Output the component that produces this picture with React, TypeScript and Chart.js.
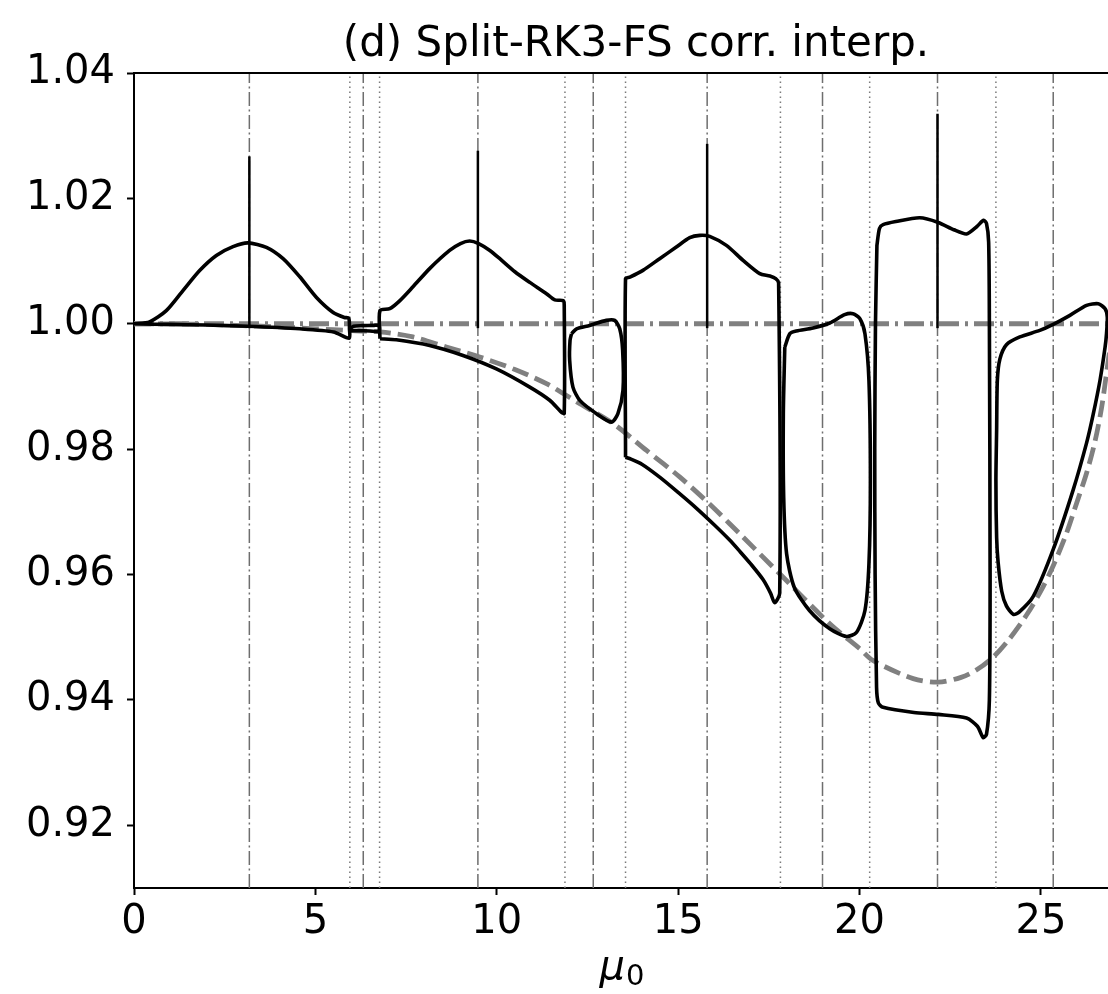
import React, { useEffect, useRef } from "react";
import { Chart, registerables } from "chart.js";

Chart.register(...registerables);

// ---------------- data ----------------
const X_MAX = 26.85;
const Y_MIN = 0.91;
const Y_MAX = 1.04;

const xTicks = [0, 5, 10, 15, 20, 25];
const yTicks = [0.92, 0.94, 0.96, 0.98, 1.0, 1.02, 1.04];

const dashDotX = [3.18, 6.32, 9.48, 12.66, 15.8, 18.98, 22.15, 25.34];
const dottedX = [5.95, 6.77, 11.88, 13.55, 17.82, 20.28, 23.76];

const spikeX = [3.18, 9.48, 15.8, 22.15];
const spikeTop = [1.0267, 1.0276, 1.0287, 1.0335];
const spikeBase = 0.9993;

// loop 0 - 5.95
const loop1X = [0, 0.43, 0.89, 1.35, 1.81, 2.27, 2.73, 3.14, 3.65, 4.11, 4.57, 5.03, 5.49, 5.8, 5.92, 5.94, 5.93, 5.5, 4.57, 3.14, 2.0, 1.0, 0];
const loop1Y = [1.0, 1.0003, 1.0021, 1.0053, 1.0085, 1.0109, 1.0123, 1.0129, 1.0122, 1.0104, 1.0075, 1.0042, 1.0018, 1.001, 1.0009, 0.9992, 0.9977, 0.9987, 0.9992, 0.9996, 0.9998, 0.9999, 1.0];

// tiny loop 5.95 - 6.78
const loop2X = [5.96, 6.05, 6.3, 6.6, 6.74, 6.77, 6.74, 6.5, 6.2, 6.0, 5.96];
const loop2Y = [0.9992, 0.99962, 0.9997, 0.99975, 0.9998, 0.9993, 0.9988, 0.99885, 0.9989, 0.9989, 0.9992];

// loop 6.78 - 11.86
const loop3X = [6.78, 6.78, 7.05, 7.33, 7.69, 8.15, 8.7, 9.0, 9.25, 9.5, 9.81, 10.1, 10.5, 10.91, 11.37, 11.6, 11.83, 11.86, 11.86, 11.78, 11.46, 10.91, 9.99, 9.07, 8.15, 7.23, 6.78];
const loop3Y = [0.99762, 1.0021, 1.0024, 1.0037, 1.0059, 1.0088, 1.0117, 1.0128, 1.0132, 1.0128, 1.0117, 1.0103, 1.0083, 1.0066, 1.0048, 1.0038, 1.0037, 1.003, 0.9857, 0.9859, 0.9878, 0.9899, 0.9928, 0.99495, 0.99655, 0.99745, 0.99762];

// loop 11.9 - 13.5
const loop4X = [12.06, 12.2, 12.56, 13.02, 13.25, 13.39, 13.47, 13.48, 13.34, 13.16, 12.75, 12.29, 12.1, 12.01, 12.02, 12.06];
const loop4Y = [0.9984, 0.9992, 0.99974, 1.00054, 1.00054, 0.9992, 0.9958, 0.9894, 0.98565, 0.98431, 0.98565, 0.98778, 0.9899, 0.99416, 0.99735, 0.9984];

// loop 13.5 - 17.8
const loop5X = [13.55, 13.55, 13.67, 14.03, 14.49, 14.95, 15.32, 15.6, 15.87, 16.33, 16.79, 17.25, 17.53, 17.69, 17.77, 17.8, 17.66, 17.55, 17.34, 17.0, 16.7, 16.42, 16.0, 15.5, 15.0, 14.5, 14.0, 13.7, 13.55];
const loop5Y = [0.9787, 1.0072, 1.00745, 1.00852, 1.01038, 1.01223, 1.01373, 1.0141, 1.01394, 1.0125, 1.01011, 1.00799, 1.00761, 1.00719, 1.0065, 0.957, 0.9555, 0.957, 0.9592, 0.9617, 0.9637, 0.9655, 0.9679, 0.9706, 0.9731, 0.9755, 0.9776, 0.9784, 0.9787];

// loop 17.8 - 20.3
const loop6X = [17.94, 18.08, 18.26, 18.72, 19.18, 19.59, 19.82, 20.01, 20.15, 20.26, 20.3, 20.26, 20.15, 19.92, 19.64, 19.18, 18.62, 18.2, 17.99, 17.91, 17.9, 17.94];
const loop6Y = [0.99628, 0.99842, 0.99884, 0.99932, 1.00012, 1.00145, 1.00161, 1.00081, 0.99842, 0.99097, 0.97501, 0.96172, 0.95427, 0.9508, 0.95012, 0.95135, 0.95427, 0.95798, 0.96331, 0.97234, 0.98565, 0.99628];

// box 20.4 - 23.6
const loop7X = [20.48, 20.55, 20.65, 21.0, 21.66, 22.17, 22.6, 22.95, 23.23, 23.42, 23.5, 23.56, 23.58, 23.6, 23.58, 23.5, 23.41, 23.25, 22.95, 22.17, 21.5, 20.65, 20.52, 20.47, 20.43, 20.42, 20.44, 20.48];
const loop7Y = [1.0125, 1.0152, 1.0158, 1.0163, 1.0169, 1.01616, 1.015, 1.01433, 1.01548, 1.0165, 1.016, 1.013, 1.0, 0.96, 0.94, 0.9345, 0.934, 0.9358, 0.93711, 0.93769, 0.938, 0.93882, 0.9395, 0.942, 0.96, 0.98, 1.0, 1.0125];

// loop 23.7 - 26.85
const loop8X = [23.78, 23.8, 23.87, 24.05, 24.42, 24.97, 25.34, 25.8, 26.26, 26.58, 26.77, 26.83, 26.81, 26.77, 26.63, 26.44, 26.26, 25.89, 25.34, 24.79, 24.4, 24.24, 24.05, 23.92, 23.82, 23.78, 23.76, 23.78];
const loop8Y = [0.983, 0.991, 0.99438, 0.99666, 0.9979, 0.99894, 0.9999, 1.00134, 1.00293, 1.0032, 1.0024, 1.00107, 0.9985, 0.99628, 0.991, 0.9855, 0.981, 0.9735, 0.964, 0.9565, 0.954, 0.95364, 0.955, 0.95734, 0.962, 0.96592, 0.975, 0.983];

// gray dashed reference curve
const refX = [0, 1, 2, 3, 4, 5, 6, 6.78, 7.69, 8.61, 9.53, 10.5, 11.37, 12.29, 13.21, 14.13, 15.05, 15.96, 16.42, 16.7, 17.8, 19.18, 20.0, 20.37, 21.48, 22.17, 22.8, 23.23, 23.68, 24.1, 24.6, 25.0, 25.34, 25.7, 25.98, 26.26, 26.49, 26.67, 26.83, 26.9];
const refY = [1.0, 0.99998, 0.9999, 0.9997, 0.9995, 0.9992, 0.9989, 0.9987, 0.9979, 0.9963, 0.9947, 0.9927, 0.99044, 0.98725, 0.98406, 0.97979, 0.97553, 0.97075, 0.9681, 0.9665, 0.96012, 0.95214, 0.9482, 0.9463, 0.9434, 0.94283, 0.9436, 0.9448, 0.9468, 0.9495, 0.9535, 0.9574, 0.9614, 0.9665, 0.9713, 0.9762, 0.9812, 0.9865, 0.993, 0.996];

const unityY = 1.0;

const TITLE = "(d) Split-RK3-FS corr. interp.";
const FONT = "'DejaVu Sans', 'Liberation Sans', sans-serif";

const blackLoops: Array<[number[], number[]]> = [
  [loop1X, loop1Y],
  [loop2X, loop2Y],
  [loop3X, loop3Y],
  [loop4X, loop4Y],
  [loop5X, loop5Y],
  [loop6X, loop6Y],
  [loop7X, loop7Y],
  [loop8X, loop8Y],
];

function zip(xs: number[], ys: number[]) {
  return xs.map((x, i) => ({ x, y: ys[i] }));
}

const decorPlugin = {
  id: "decor",
  afterDraw(chart: any) {
    const { ctx, chartArea } = chart;
    ctx.save();
    ctx.strokeStyle = "#000";
    ctx.lineWidth = 2;
    ctx.beginPath();
    ctx.moveTo(chartArea.left - 1, chartArea.top);
    ctx.lineTo(chartArea.right, chartArea.top);
    ctx.stroke();

    ctx.fillStyle = "#000";
    ctx.font = `42px ${FONT}`;
    ctx.textAlign = "center";
    ctx.textBaseline = "alphabetic";
    ctx.fillText(TITLE, 636, 56);

    // x-axis label: italic mu with subscript 0
    ctx.textAlign = "left";
    ctx.font = `italic 40px ${FONT}`;
    const wMu = ctx.measureText("μ").width;
    ctx.font = `29px ${FONT}`;
    const w0 = ctx.measureText("0").width;
    const start = 622 - (wMu + w0 + 1) / 2;
    ctx.font = `italic 40px ${FONT}`;
    ctx.fillText("μ", start, 979);
    ctx.font = `29px ${FONT}`;
    ctx.fillText("0", start + wMu + 1, 985);
    ctx.restore();
  },
};

export default function App() {
  const ref = useRef<HTMLCanvasElement | null>(null);

  useEffect(() => {
    if (!ref.current) return;
    const datasets: any[] = [];

    blackLoops.forEach(([xs, ys], i) => {
      datasets.push({
        label: `loop${i}`,
        data: zip(xs, ys),
        showLine: true,
        borderColor: "#000",
        borderWidth: 3.6,
        pointRadius: 0,
        tension: 0.25,
        fill: false,
        order: 0,
      });
    });

    spikeX.forEach((x, i) => {
      datasets.push({
        label: `spike${i}`,
        data: [
          { x, y: spikeBase },
          { x, y: spikeTop[i] },
        ],
        showLine: true,
        borderColor: "#000",
        borderWidth: 2.5,
        pointRadius: 0,
        order: 0,
      });
    });

    datasets.push({
      label: "ref",
      data: zip(refX, refY),
      showLine: true,
      borderColor: "#808080",
      borderWidth: 4.8,
      borderDash: [17, 7],
      pointRadius: 0,
      tension: 0.3,
      order: 1,
    });

    datasets.push({
      label: "unity",
      data: [
        { x: 0, y: unityY },
        { x: X_MAX, y: unityY },
      ],
      showLine: true,
      borderColor: "#808080",
      borderWidth: 4.8,
      borderDash: [20, 6, 3, 6],
      pointRadius: 0,
      order: 1,
    });

    dashDotX.forEach((x, i) => {
      datasets.push({
        label: `dd${i}`,
        data: [
          { x, y: Y_MIN },
          { x, y: Y_MAX },
        ],
        showLine: true,
        borderColor: "#6e6e6e",
        borderWidth: 1.5,
        borderDash: [14, 3.5, 2, 3.5],
        pointRadius: 0,
        order: 2,
      });
    });

    dottedX.forEach((x, i) => {
      datasets.push({
        label: `dot${i}`,
        data: [
          { x, y: Y_MIN },
          { x, y: Y_MAX },
        ],
        showLine: true,
        borderColor: "#7a7a7a",
        borderWidth: 1.5,
        borderDash: [1.6, 3.4],
        pointRadius: 0,
        order: 2,
      });
    });

    const chart = new Chart(ref.current, {
      type: "scatter",
      data: { datasets },
      plugins: [decorPlugin],
      options: {
        animation: false,
        responsive: false,
        devicePixelRatio: 1,
        layout: { padding: { top: 73, left: 0, right: 0, bottom: 0 } },
        plugins: {
          legend: { display: false },
          title: { display: false },
          tooltip: { enabled: false },
        },
        scales: {
          x: {
            type: "linear",
            min: 0,
            max: X_MAX,
            afterFit: (s: any) => {
              s.height = 106;
            },
            afterBuildTicks: (s: any) => {
              s.ticks = xTicks.map((v) => ({ value: v }));
            },
            grid: {
              display: true,
              drawOnChartArea: false,
              drawTicks: true,
              tickLength: 7,
              tickWidth: 2,
              tickColor: "#000",
            },
            border: { display: true, color: "#000", width: 2 },
            ticks: {
              autoSkip: false,
              maxRotation: 0,
              padding: 4,
              color: "#000",
              font: { family: FONT, size: 40 },
              callback: (v: any) => String(v),
            },
          },
          y: {
            type: "linear",
            min: Y_MIN,
            max: Y_MAX,
            afterFit: (s: any) => {
              s.width = 134;
            },
            afterBuildTicks: (s: any) => {
              s.ticks = yTicks.map((v) => ({ value: v }));
            },
            grid: {
              display: true,
              drawOnChartArea: false,
              drawTicks: true,
              tickLength: 7,
              tickWidth: 2,
              tickColor: "#000",
            },
            border: { display: true, color: "#000", width: 2 },
            ticks: {
              autoSkip: false,
              padding: 12,
              color: "#000",
              font: { family: FONT, size: 40 },
              callback: (v: any) => Number(v).toFixed(2),
            },
          },
        },
      },
    });
    return () => chart.destroy();
  }, []);

  return (
    <div style={{ position: "absolute", left: 0, top: 0, width: 1108, height: 994, background: "#fff" }}>
      <canvas ref={ref} width={1108} height={994} style={{ display: "block", width: 1108, height: 994 }} />
    </div>
  );
}
